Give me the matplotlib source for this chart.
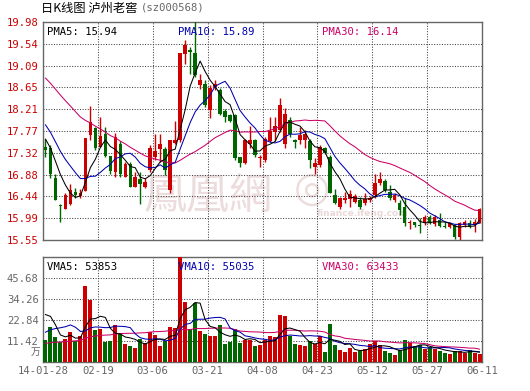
import numpy as np
import pandas as pd
import matplotlib
matplotlib.use('Agg')
import matplotlib.pyplot as plt

# daily candles 2014-01-28 .. 2014-06-11 (88 trading days)
open_ = [17.45, 17.41, 16.80, 16.27, 16.19, 16.28, 16.52, 16.44, 16.55, 17.68,
         17.83, 17.44, 17.70, 17.25, 16.94, 17.50, 16.83, 17.09, 16.63, 16.78,
         16.63, 16.97, 17.24, 17.39, 17.39, 16.56, 17.52, 17.58, 19.32, 19.41,
         19.34, 18.70, 18.72, 18.20, 18.66, 18.59, 18.17, 18.09, 18.09, 17.24,
         17.11, 17.51, 17.58, 17.22, 17.17, 17.57, 17.75, 17.78, 17.50, 17.98,
         17.58, 17.58, 17.59, 17.57, 17.04, 17.07, 17.41, 17.23, 16.46, 16.23,
         16.36, 16.38, 16.33, 16.36, 16.30, 16.36, 16.46, 16.70, 16.75, 16.53,
         16.36, 16.31, 16.23, 15.89, 15.92, 15.86, 15.89, 16.01, 15.87, 15.96,
         15.84, 15.82, 15.85, 15.62, 15.85, 15.90, 15.85, 15.90]
high = [17.60, 17.48, 16.89, 16.28, 16.50, 16.69, 16.60, 16.59, 17.63, 18.27,
        17.85, 18.05, 17.84, 17.25, 17.73, 17.57, 17.14, 17.14, 16.94, 16.94,
        16.80, 17.48, 17.71, 17.71, 17.44, 17.58, 17.97, 19.35, 19.62, 19.47,
        20.05, 18.93, 18.80, 18.70, 18.80, 18.63, 18.22, 18.12, 18.12, 17.24,
        17.61, 17.86, 17.61, 17.27, 17.65, 18.05, 18.05, 18.44, 18.24, 18.05,
        17.61, 17.85, 17.78, 17.61, 17.21, 17.48, 17.45, 17.27, 16.58, 16.43,
        16.52, 16.56, 16.48, 16.42, 16.50, 16.45, 16.89, 16.94, 16.78, 16.67,
        16.50, 16.36, 16.40, 15.96, 15.92, 15.99, 16.06, 16.06, 16.06, 16.09,
        15.92, 15.92, 15.87, 15.92, 15.96, 15.96, 15.97, 16.21]
low = [17.24, 16.81, 16.36, 15.92, 16.17, 16.26, 16.40, 16.40, 16.55, 17.58,
       17.38, 17.44, 17.24, 16.89, 16.83, 16.83, 16.83, 16.62, 16.62, 16.29,
       16.60, 16.94, 17.17, 17.14, 16.87, 16.50, 17.51, 17.55, 19.13, 18.93,
       18.86, 18.62, 18.26, 18.02, 18.59, 18.09, 17.95, 17.95, 17.17, 17.04,
       17.09, 17.41, 17.24, 17.04, 17.14, 17.55, 17.57, 17.75, 17.41, 17.65,
       17.41, 17.50, 17.42, 17.02, 16.89, 17.04, 17.30, 16.50, 16.29, 16.19,
       16.30, 16.23, 16.30, 16.19, 16.27, 16.33, 16.40, 16.67, 16.53, 16.36,
       16.33, 16.06, 15.83, 15.77, 15.82, 15.70, 15.85, 15.87, 15.83, 15.82,
       15.79, 15.79, 15.58, 15.54, 15.82, 15.79, 15.72, 15.89]
close = [17.38, 16.89, 16.36, 16.24, 16.46, 16.56, 16.46, 16.51, 17.62, 17.95,
         17.42, 17.66, 17.26, 16.96, 17.65, 16.89, 17.09, 16.63, 16.83, 16.69,
         16.73, 17.42, 17.35, 17.50, 16.97, 17.58, 17.58, 19.35, 19.51, 19.37,
         18.90, 18.80, 18.29, 18.63, 18.73, 18.12, 18.05, 17.97, 17.21, 17.12,
         17.58, 17.59, 17.27, 17.24, 17.61, 17.77, 17.86, 18.29, 18.11, 17.71,
         17.54, 17.68, 17.71, 17.17, 17.12, 17.44, 17.32, 16.51, 16.31, 16.40,
         16.40, 16.48, 16.44, 16.23, 16.38, 16.40, 16.70, 16.78, 16.56, 16.40,
         16.46, 16.16, 15.89, 15.92, 15.85, 15.83, 16.01, 15.90, 16.02, 15.83,
         15.82, 15.89, 15.62, 15.89, 15.92, 15.82, 15.92, 16.19]
# volume in 万手
volume = [12.0, 19.3, 13.8, 10.7, 12.5, 16.4, 11.6, 14.2, 41.2, 33.5,
          17.5, 18.0, 11.0, 11.6, 20.2, 15.3, 9.8, 8.6, 7.5, 12.5,
          10.5, 16.2, 14.7, 8.6, 11.4, 19.1, 18.6, 60.0, 32.9, 18.0,
          32.2, 16.9, 15.3, 14.4, 14.4, 20.2, 9.8, 11.0, 18.0, 10.3,
          12.0, 12.0, 8.8, 9.4, 12.0, 14.1, 13.4, 25.6, 25.0, 14.3,
          9.8, 9.2, 8.7, 11.6, 9.6, 14.0, 5.6, 20.7, 9.4, 6.5,
          5.4, 7.6, 5.4, 6.2, 7.3, 9.8, 11.4, 9.4, 6.0, 5.1,
          4.0, 6.5, 11.8, 10.2, 8.5, 9.2, 7.0, 8.0, 6.8, 5.9,
          5.0, 4.6, 5.8, 6.2, 4.7, 6.6, 4.9, 4.5]

# history before the window, backed out of where the MA lines start
prev_close = [20.05, 19.95, 19.90, 19.85, 19.80, 19.85, 19.80, 19.70,
              19.50, 19.40, 19.30, 19.20, 19.10, 19.00, 18.90, 18.80,
              18.70, 18.60, 18.50, 18.40, 18.40, 18.30, 18.20, 18.10,
              17.90, 17.80, 17.70, 17.60, 17.52]
prev_volume = [6.5, 7.0, 7.5, 6.8, 7.2, 6.9, 7.3, 7.0, 6.6, 7.4,
               7.1, 6.8, 7.2, 7.0, 6.9, 7.3, 7.1, 6.8, 7.0, 7.6,
               6.0, 7.2, 6.4, 6.8, 6.6, 24.3, 36.8, 38.2, 17.7]

date_labels = ['14-01-28', '02-19', '03-06', '03-21', '04-08',
               '04-23', '05-12', '05-27', '06-11']
price_ticks = ['15.55', '15.99', '16.44', '16.88', '17.32', '17.77',
               '18.21', '18.65', '19.09', '19.54', '19.98']
vol_ticks = ['11.42', '22.84', '34.26', '45.68']
price_legend = ['PMA5: 15.94', 'PMA10: 15.89', 'PMA30: 16.14']
vol_legend = ['VMA5: 53853', 'VMA10: 55035', 'VMA30: 63433']

RED = '#cc0000'
GREEN = '#006600'
C5 = '#000000'
C10 = '#0000b0'
C30 = '#cc0066'
GRID = '#444444'
FRAME = '#666666'
WM = '#eddcdc'
MONO = 'DejaVu Sans Mono'

n = len(close)
x = np.arange(n) + 0.5
o = np.array(open_)
c = np.array(close)
colors = [RED if c[i] >= o[i] else GREEN for i in range(n)]

allc = pd.Series(prev_close + close)
allv = pd.Series(prev_volume + volume)
k = len(prev_close)
pma = {p: allc.rolling(p).mean().values[k:] for p in (5, 10, 30)}
vma = {p: allv.rolling(p).mean().values[k:] for p in (5, 10, 30)}

fig = plt.figure(figsize=(5.3, 3.91), dpi=100)
W, H = 530, 391
ax = fig.add_axes([43 / W, 1 - 240 / H, 439 / W, 218 / H])
axv = fig.add_axes([43 / W, 1 - 362 / H, 439 / W, 105 / H])

lw1 = 0.75
for a in (ax, axv):
    a.set_xlim(0, n)
    for s in a.spines.values():
        s.set_color(FRAME)
        s.set_linewidth(1.0)
    for gx in range(11, n, 11):
        a.axvline(gx, color=GRID, lw=lw1, ls=(0, (1, 1.5)), zorder=1)
    a.tick_params(length=0)

# price panel
pt = [float(t) for t in price_ticks]
ax.set_ylim(pt[0], pt[-1])
for gy in pt[1:-1]:
    ax.axhline(gy, color=GRID, lw=lw1, ls=(0, (1, 1.5)), zorder=1)
ax.set_yticks(pt)
ax.set_yticklabels(price_ticks, color=RED, fontsize=7.6, family=MONO)
ax.tick_params(axis='y', pad=3)
ax.set_xticks([])

# ifeng watermark
ax.text(33.0, 16.44, '鳳凰網', fontsize=31, color=WM, ha='center', va='center',
        family=['Noto Sans CJK TC'], zorder=0)
ax.text(54.0, 16.60, '◎', fontsize=30, color=WM, ha='center', va='center',
        family=['DejaVu Sans'], zorder=0)
ax.text(64.0, 16.09, 'finance.ifeng.com', fontsize=6.5, color='#ead8d8', ha='center',
        va='center', family=['DejaVu Sans'], weight='bold', zorder=0)

body_lo = np.minimum(o, c)
body_h = np.maximum(np.abs(c - o), 0.012)
ax.vlines(x, low, high, colors=colors, lw=1.0, zorder=3)
ax.bar(x, body_h, bottom=body_lo, width=0.72, color=colors, lw=0, zorder=4)

ax.plot(x, pma[30], color=C30, lw=lw1, zorder=5)
ax.plot(x, pma[10], color=C10, lw=lw1, zorder=5)
ax.plot(x, pma[5], color=C5, lw=lw1, zorder=5)

for txt, xf, col in zip(price_legend, (0.009, 0.3075, 0.6355), (C5, C10, C30)):
    ax.text(xf, 0.955, txt, transform=ax.transAxes, color=col,
            fontsize=7.6, family=MONO, va='center')

# volume panel
vt = [float(t) for t in vol_ticks]
axv.set_ylim(0, vt[0] * 5)
for gy in vt:
    axv.axhline(gy, color=GRID, lw=lw1, ls=(0, (1, 1.5)), zorder=1)
axv.set_yticks(vt)
axv.set_yticklabels(vol_ticks, color='#666666', fontsize=7.6, family=MONO)
axv.tick_params(axis='y', pad=3)
axv.set_xticks(np.arange(0, n + 1, 11))
axv.set_xticklabels(date_labels, color='#666666', fontsize=7.6, family=MONO)
axv.tick_params(axis='x', pad=3)

axv.bar(x, volume, width=0.8, color=colors, lw=0, zorder=3)
axv.plot(x, vma[30], color=C30, lw=lw1, zorder=5)
axv.plot(x, vma[10], color=C10, lw=lw1, zorder=5)
axv.plot(x, vma[5], color=C5, lw=lw1, zorder=5)

for txt, xf, col in zip(vol_legend, (0.009, 0.3075, 0.6355), (C5, C10, C30)):
    axv.text(xf, 0.902, txt, transform=axv.transAxes, color=col,
             fontsize=7.6, family=MONO, va='center')
fig.text(40 / W, 1 - 352 / H, '万', color='#666666', fontsize=7, ha='right', va='center',
         family=['Noto Sans CJK SC'])

# title
fig.text(41 / W, 1 - 8 / H, '日K线图 泸州老窖', fontsize=8.8, color='#000000', va='center',
         family=['Noto Sans CJK SC', 'DejaVu Sans'])
fig.text(141 / W, 1 - 8 / H, '(sz000568)', fontsize=7.6, color='#666666', va='center',
         family=MONO)

fig.savefig('out.png', dpi=100)
